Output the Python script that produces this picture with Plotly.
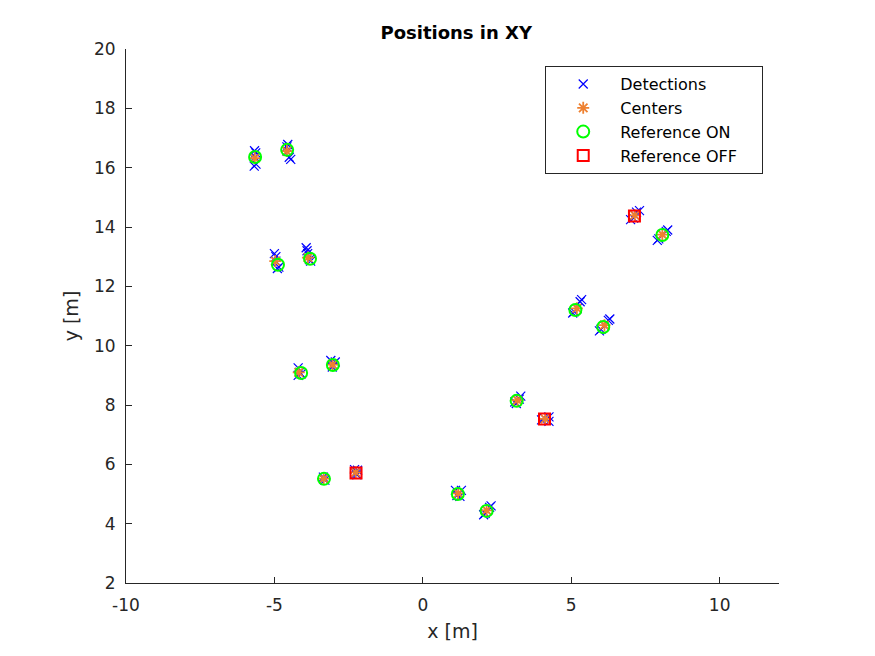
import plotly.graph_objects as go

# detections (blue x), read per cluster
det_x = [-5.67, -5.63, -5.65, -5.62, -5.68,
         -4.55, -4.58, -4.57, -4.50, -4.45,
         -5.00, -4.95, -4.95, -4.90, -4.85,
         -3.93, -3.90, -3.88, -3.82, -3.78,
         -4.20, -4.15, -4.20, -4.10,
         -3.10, -2.95, -3.03, -3.05,
         -3.35, -3.30, -3.33,
         -2.30, -2.20, -2.25, -2.22,
         1.10, 1.30, 1.15, 1.25,
         2.30, 2.25, 2.05, 2.10, 2.15,
         3.30, 3.15, 3.10, 3.25,
         4.25, 4.25, 4.00, 4.10,
         5.35, 5.30, 5.05, 5.10, 5.20,
         6.30, 6.25, 5.95, 6.00, 6.12,
         7.30, 7.20, 7.00, 7.10, 7.15,
         8.25, 8.20, 7.95, 7.90, 8.07]
det_y = [16.57, 16.50, 16.35, 16.12, 16.05,
         16.78, 16.70, 16.55, 16.35, 16.28,
         13.10, 13.00, 12.85, 12.60, 12.65,
         13.30, 13.20, 13.10, 12.90, 12.85,
         9.25, 9.10, 9.00, 9.05,
         9.50, 9.45, 9.35, 9.28,
         5.57, 5.47, 5.50,
         5.82, 5.80, 5.70, 5.65,
         5.12, 5.12, 4.95, 4.92,
         4.60, 4.55, 4.30, 4.35, 4.45,
         8.30, 8.05, 8.10, 8.20,
         7.60, 7.45, 7.50, 7.55,
         11.55, 11.48, 11.10, 11.15, 11.25,
         10.90, 10.85, 10.50, 10.55, 10.68,
         14.55, 14.50, 14.25, 14.30, 14.40,
         13.90, 13.85, 13.60, 13.55, 13.75]

# cluster centers (orange asterisks)
cen_x = [-5.66, -4.58, -4.97, -3.87, -4.18, -3.04, -3.34, -2.26,
         1.19, 2.15, 3.19, 4.12, 5.19, 6.12, 7.14, 8.07]
cen_y = [16.32, 16.56, 12.85, 12.97, 9.10, 9.36, 5.52, 5.73,
         5.02, 4.45, 8.16, 7.53, 11.26, 10.69, 14.39, 13.74]

# reference positions
ref_on_x = [-5.65, -4.57, -4.88, -3.80, -4.10, -3.03, -3.33,
            1.18, 2.15, 3.16, 5.14, 6.08, 8.07]
ref_on_y = [16.36, 16.60, 12.73, 12.93, 9.08, 9.35, 5.51,
            5.00, 4.43, 8.14, 11.20, 10.63, 13.73]
ref_off_x = [-2.25, 4.10, 7.13]
ref_off_y = [5.71, 7.53, 14.37]

x_ticks = [-10, -5, 0, 5, 10]
y_ticks = [2, 4, 6, 8, 10, 12, 14, 16, 18, 20]

ink = "#262626"
font = "DejaVu Sans"
pad = "\u00a0" * 4  # trailing room in the legend box, like the MATLAB legend

fig = go.Figure()
fig.add_trace(go.Scatter(
    x=det_x, y=det_y, mode="markers", name="Detections",
    marker=dict(symbol="x-thin-open", size=9, color="#0000FF",
                line=dict(color="#0000FF", width=1.2)),
))
fig.add_trace(go.Scatter(
    x=cen_x, y=cen_y, mode="markers", name="Centers",
    marker=dict(symbol="asterisk-open", size=10, color="#EE8030",
                line=dict(color="#EE8030", width=1.8)),
))
fig.add_trace(go.Scatter(
    x=ref_on_x, y=ref_on_y, mode="markers", name="Reference ON",
    marker=dict(symbol="circle-open", size=12, color="#00FF00",
                line=dict(color="#00FF00", width=2)),
))
fig.add_trace(go.Scatter(
    x=ref_off_x, y=ref_off_y, mode="markers", name="Reference OFF" + pad,
    marker=dict(symbol="square-open", size=11, color="#FF0000",
                line=dict(color="#FF0000", width=2)),
))

axis_common = dict(
    showgrid=False, zeroline=False, showline=True, linecolor=ink, linewidth=1,
    ticks="inside", ticklen=6, tickcolor=ink, mirror=False,
    tickfont=dict(family=font, size=17, color=ink),
)

fig.update_layout(
    width=867, height=648,
    margin=dict(l=118, r=96, t=41, b=73),
    paper_bgcolor="white", plot_bgcolor="white",
    font=dict(family=font, color=ink),
    title=dict(text="<b>Positions in XY</b>", x=0.517, xanchor="center",
               y=0.962, yanchor="middle", font=dict(family=font, size=18, color="black")),
    xaxis=dict(range=[-10, 12], tickvals=x_ticks, ticktext=[str(v) for v in x_ticks],
               ticklabelstandoff=7,
               title=dict(text="x [m]", font=dict(family=font, size=19, color=ink), standoff=10),
               **axis_common),
    yaxis=dict(range=[2, 20], tickvals=y_ticks, ticktext=[str(v) for v in y_ticks],
               ticklabelstandoff=6,
               title=dict(text="y [m]", font=dict(family=font, size=19, color=ink), standoff=10),
               **axis_common),
    legend=dict(x=0.642, y=0.968, xanchor="left", yanchor="top",
                bgcolor="white", bordercolor=ink, borderwidth=1,
                font=dict(family=font, size=16, color="black"),
                itemwidth=64, tracegroupgap=0),
    showlegend=True,
)

fig.write_html("out.html")
